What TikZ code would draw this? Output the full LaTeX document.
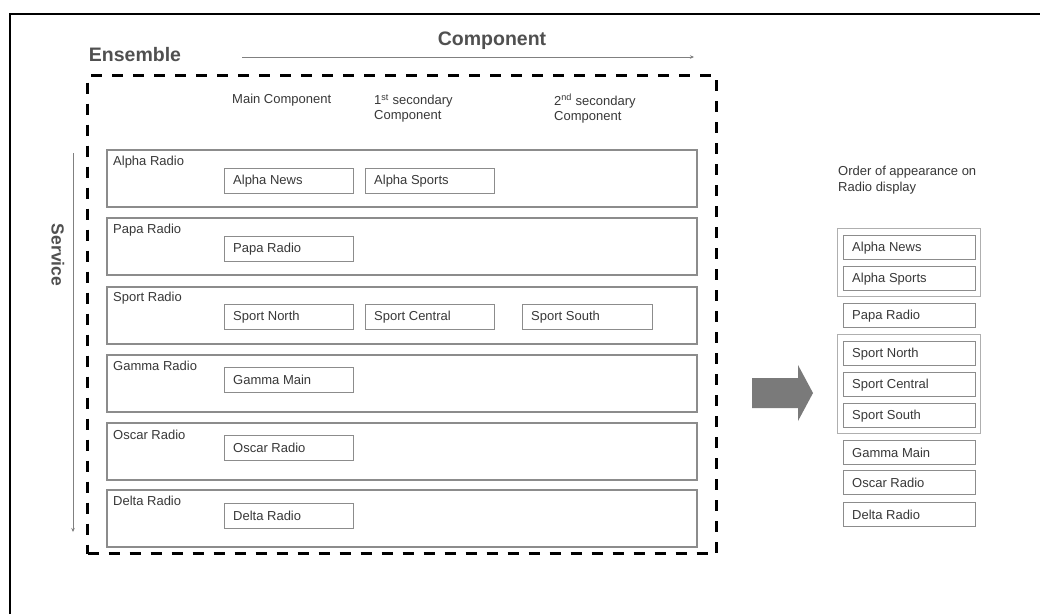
\documentclass[tikz,border=0pt]{standalone}
\usepackage{fontspec}
\setmainfont{Liberation Sans}
\usetikzlibrary{arrows.meta}
\definecolor{txt}{HTML}{383838}
\definecolor{head}{HTML}{505050}
\definecolor{boxline}{HTML}{8C8C8C}
\definecolor{bigarrow}{HTML}{7A7A7A}
\begin{document}
\begin{tikzpicture}[x=1pt,y=-1pt,
  small/.style={font=\fontsize{13}{15.5}\selectfont, text=txt, inner sep=0pt},
  heading/.style={font=\bfseries\fontsize{19.5}{22}\selectfont, text=head, inner sep=0pt},
  rowbox/.style={draw=boxline, line width=1.6pt, minimum width=590pt, minimum height=57pt, anchor=north west, inner sep=0pt},
  compbox/.style={draw=boxline, line width=1.3pt, minimum width=129pt, minimum height=25pt, anchor=north west, inner sep=0pt},
  dispbox/.style={draw=boxline, line width=1.3pt, minimum width=132pt, minimum height=24pt, anchor=north west, inner sep=0pt},
  groupbox/.style={draw=boxline!70, line width=1pt, anchor=north west, inner sep=0pt},
  thinarrow/.style={draw=gray, line width=0.8pt, -{Stealth[length=4pt,width=3.5pt]}},
]
\useasboundingbox (0,0) rectangle (1040,614);
\fill[white] (0,0) rectangle (1040,614);
% outer frame (top and left edges)
\coordinate (fbl) at (10,614);
\coordinate (ftl) at (10,14);
\coordinate (ftr) at (1040,14);
\draw[black, line width=2.5pt] (fbl) -- (ftl) -- (ftr);

% headings
\node[heading] (ens) at (135,55) {Ensemble};
\node[heading] (comp) at (492,41) {Component};
\coordinate (ca) at (242,57);
\coordinate (cb) at (694,57);
\draw[thinarrow] (ca) -- (cb);

% service axis
\node[heading, font=\bfseries\fontsize{17.5}{20}\selectfont, rotate=-90] (serv) at (58,255) {Service};
\coordinate (sa) at (73,153);
\coordinate (sb) at (73,532);
\draw[thinarrow] (sa) -- (sb);

% ensemble dashed frame
\node[draw=black, line width=3pt, dash pattern=on 11pt off 10pt, minimum width=629pt, minimum height=478pt, anchor=north west, inner sep=0pt] (ensbox) at (86,74) {};

% column headers
\node[small, anchor=west] (h1) at (232,100) {Main Component};
\node[small, anchor=north west, align=left] (h2) at (374,94) {1\textsuperscript{st} secondary\\Component};
\node[small, anchor=north west, align=left] (h3) at (554,94) {2\textsuperscript{nd} secondary\\Component};

% service rows
\node[rowbox] (r1) at (106,149) {};
\node[rowbox] (r2) at (106,217) {};
\node[rowbox] (r3) at (106,286) {};
\node[rowbox] (r4) at (106,354) {};
\node[rowbox] (r5) at (106,422) {};
\node[rowbox] (r6) at (106,489) {};
\node[small, anchor=west] (l1) at (113,162) {Alpha Radio};
\node[small, anchor=west] (l2) at (113,230) {Papa Radio};
\node[small, anchor=west] (l3) at (113,298) {Sport Radio};
\node[small, anchor=west] (l4) at (113,366) {Gamma Radio};
\node[small, anchor=west] (l5) at (113,435) {Oscar Radio};
\node[small, anchor=west] (l6) at (113,501) {Delta Radio};

% component boxes
\node[compbox] (an) at (224,168) {};
\node[small, anchor=west] at ([xshift=9pt]an.west) {Alpha News};
\node[compbox] (as) at (365,168) {};
\node[small, anchor=west] at ([xshift=9pt]as.west) {Alpha Sports};
\node[compbox] (pr) at (224,236) {};
\node[small, anchor=west] at ([xshift=9pt]pr.west) {Papa Radio};
\node[compbox] (sn) at (224,304) {};
\node[small, anchor=west] at ([xshift=9pt]sn.west) {Sport North};
\node[compbox] (sc) at (365,304) {};
\node[small, anchor=west] at ([xshift=9pt]sc.west) {Sport Central};
\node[compbox, minimum width=130pt] (ss) at (522,304) {};
\node[small, anchor=west] at ([xshift=9pt]ss.west) {Sport South};
\node[compbox] (gm) at (224,367) {};
\node[small, anchor=west] at ([xshift=9pt]gm.west) {Gamma Main};
\node[compbox] (orr) at (224,435) {};
\node[small, anchor=west] at ([xshift=9pt]orr.west) {Oscar Radio};
\node[compbox] (dr) at (224,503) {};
\node[small, anchor=west] at ([xshift=9pt]dr.west) {Delta Radio};

% big arrow
\fill[bigarrow] (752,378) -- (798,378) -- (798,365) -- (813,393) -- (798,421) -- (798,408) -- (752,408) -- cycle;

% display order
\node[small, anchor=north west, align=left] (ord) at (838,166) {Order of appearance on\\Radio display};
\node[groupbox, minimum width=143pt, minimum height=68pt] (g1) at (837,228) {};
\node[groupbox, minimum width=143pt, minimum height=99pt] (g2) at (837,334) {};
\node[dispbox] (d1) at (843,235) {};
\node[small, anchor=west] at ([xshift=9pt]d1.west) {Alpha News};
\node[dispbox] (d2) at (843,266) {};
\node[small, anchor=west] at ([xshift=9pt]d2.west) {Alpha Sports};
\node[dispbox] (d3) at (843,303) {};
\node[small, anchor=west] at ([xshift=9pt]d3.west) {Papa Radio};
\node[dispbox] (d4) at (843,341) {};
\node[small, anchor=west] at ([xshift=9pt]d4.west) {Sport North};
\node[dispbox] (d5) at (843,372) {};
\node[small, anchor=west] at ([xshift=9pt]d5.west) {Sport Central};
\node[dispbox] (d6) at (843,403) {};
\node[small, anchor=west] at ([xshift=9pt]d6.west) {Sport South};
\node[dispbox] (d7) at (843,440) {};
\node[small, anchor=west] at ([xshift=9pt]d7.west) {Gamma Main};
\node[dispbox] (d8) at (843,470) {};
\node[small, anchor=west] at ([xshift=9pt]d8.west) {Oscar Radio};
\node[dispbox] (d9) at (843,502) {};
\node[small, anchor=west] at ([xshift=9pt]d9.west) {Delta Radio};
\end{tikzpicture}
\end{document}
